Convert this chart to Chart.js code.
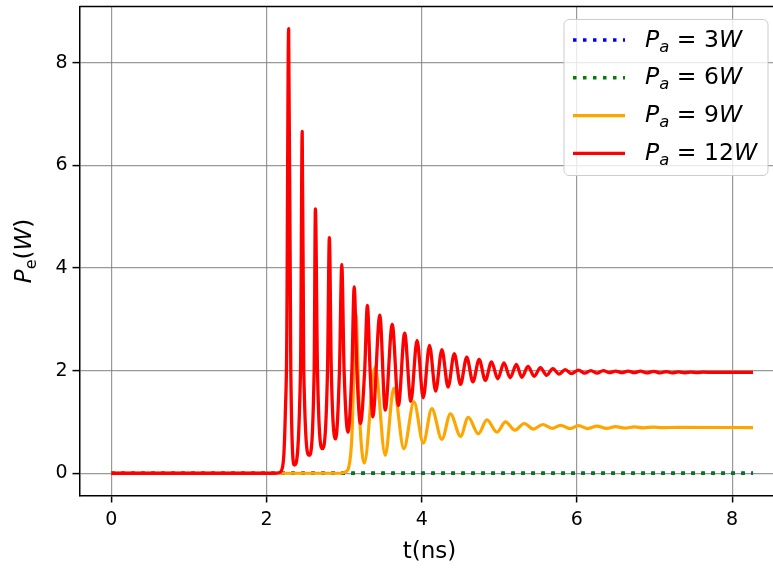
<!DOCTYPE html>
<html lang="en">
<head>
    <meta charset="UTF-8">
    <title>Output power vs time</title>
    <script src="https://cdn.jsdelivr.net/npm/chart.js@4.4.1/dist/chart.umd.min.js"></script>
    <style>
        html, body { margin: 0; padding: 0; background: #fff; overflow: hidden; }
        canvas { display: block; }
    </style>
</head>
<body>
    <canvas id="chart" width="773" height="569"></canvas>
    <script>
        // pump powers (legend) and [t (ns), Pe (W)] points
        const pumpPowers = [3, 6, 9, 12];
        const flat3W = [[0, 0], [8.27, 0]];
        const flat6W = [[0, 0], [8.27, 0]];
        const orange9W = [
            [0, 0], [2.95, 0], [3.02, 0.03], [3.06, 0.12], [3.10, 0.71], [3.12, 1.68], [3.14, 2.75],
            [3.155, 3.1], [3.17, 2.5], [3.20, 1.1], [3.26, 0.2], [3.40, 2.07], [3.53, 0.35],
            [3.64, 1.66], [3.77, 0.48], [3.90, 1.39], [4.02, 0.59], [4.13, 1.26], [4.26, 0.66],
            [4.37, 1.16], [4.50, 0.72], [4.60, 1.09], [4.73, 0.77], [4.84, 1.04], [4.97, 0.80],
            [5.08, 1.00], [5.20, 0.84], [5.32, 0.97], [5.44, 0.86], [5.56, 0.95], [5.68, 0.875],
            [5.79, 0.935], [5.91, 0.87], [6.02, 0.93], [6.14, 0.87], [6.26, 0.92], [6.38, 0.875],
            [6.50, 0.91], [6.62, 0.88], [6.74, 0.905], [6.86, 0.885], [6.98, 0.90], [7.10, 0.888],
            [7.30, 0.895], [8.27, 0.89]
        ];
        const red12W = [
            [0, 0], [2.10, 0], [2.16, 0.01], [2.20, 0.08], [2.225, 0.4], [2.245, 1.3], [2.26, 2.4],
            [2.285, 8.66], [2.313, 2.0], [2.36, 0.16], [2.438, 2.0], [2.46, 6.66], [2.48, 2.0],
            [2.55, 0.35], [2.614, 2.0], [2.63, 5.15], [2.657, 2.0], [2.72, 0.48], [2.786, 2.0],
            [2.81, 4.59], [2.835, 2.0], [2.89, 0.67], [2.94, 2.0], [2.97, 4.07], [3.00, 2.0],
            [3.05, 0.80], [3.10, 2.0], [3.13, 3.63], [3.165, 2.0], [3.21, 0.97], [3.265, 2.0],
            [3.30, 3.27], [3.335, 2.0], [3.37, 1.10], [3.46, 3.08], [3.53, 1.23], [3.62, 2.90],
            [3.70, 1.32], [3.78, 2.73], [3.86, 1.40], [3.94, 2.59], [4.02, 1.47], [4.10, 2.49],
            [4.18, 1.60], [4.26, 2.41], [4.34, 1.68], [4.42, 2.33], [4.50, 1.73], [4.58, 2.26],
            [4.66, 1.78], [4.74, 2.22], [4.82, 1.81], [4.90, 2.17], [4.98, 1.84], [5.06, 2.15],
            [5.14, 1.86], [5.22, 2.12], [5.29, 1.87], [5.37, 2.08], [5.45, 1.89], [5.53, 2.06],
            [5.61, 1.91], [5.69, 2.04], [5.77, 1.93], [5.85, 2.02], [5.93, 1.94], [6.02, 2.01],
            [6.10, 1.95], [6.18, 2.00], [6.26, 1.95], [6.34, 2.00], [6.42, 1.96], [6.50, 1.99],
            [6.58, 1.96], [6.66, 1.99], [6.74, 1.96], [6.82, 1.99], [6.90, 1.955], [6.99, 1.985],
            [7.07, 1.955], [7.15, 1.98], [7.23, 1.955], [7.31, 1.975], [7.39, 1.958], [7.47, 1.972],
            [7.55, 1.96], [7.63, 1.97], [7.75, 1.965], [8.27, 1.965]
        ];
        const xTicks = [0, 2, 4, 6, 8];
        const yTicks = [0, 2, 4, 6, 8];

        const FONT = '"DejaVu Sans", sans-serif';
        const toXY = pts => pts.map(p => ({ x: p[0], y: p[1] }));

        // draw a small piece of "math" text: italic symbols, subscripts
        function mathWidth(ctx, parts, size) {
            let w = 0;
            parts.forEach(p => {
                const fs = p.sub ? size * 0.7 : size;
                ctx.font = (p.it ? 'italic ' : '') + fs + 'px ' + FONT;
                w += (p.gap || 0) * size + ctx.measureText(p.t).width;
            });
            return w;
        }
        function drawMath(ctx, parts, x, y, size) {
            let cx = x;
            parts.forEach(p => {
                const fs = p.sub ? size * 0.7 : size;
                ctx.font = (p.it ? 'italic ' : '') + fs + 'px ' + FONT;
                cx += (p.gap || 0) * size;
                ctx.fillText(p.t, cx, y + (p.sub ? size * 0.22 : 0));
                cx += ctx.measureText(p.t).width;
            });
        }

        const decorations = {
            id: 'decorations',
            afterDraw(chart) {
                const ctx = chart.ctx;
                const ca = chart.chartArea;
                ctx.save();
                ctx.fillStyle = '#000';
                ctx.textAlign = 'left';
                ctx.textBaseline = 'alphabetic';

                // top spine
                ctx.strokeStyle = '#000';
                ctx.lineWidth = 1.5;
                ctx.beginPath();
                ctx.moveTo(ca.left, ca.top);
                ctx.lineTo(ca.right, ca.top);
                ctx.stroke();

                // x axis title
                const xs = chart.scales.x;
                ctx.font = '23px ' + FONT;
                ctx.textAlign = 'center';
                ctx.fillText('t(ns)', xs.getPixelForValue(4.1), 558);
                ctx.textAlign = 'left';

                // y axis title, rotated
                const yParts = [{ t: 'P', it: 1 }, { t: 'e', sub: 1 }, { t: '(' }, { t: 'W', it: 1 }, { t: ')' }];
                const ys = chart.scales.y;
                ctx.save();
                ctx.translate(31, ys.getPixelForValue(4.33));
                ctx.rotate(-Math.PI / 2);
                drawMath(ctx, yParts, -mathWidth(ctx, yParts, 23) / 2, 0, 23);
                ctx.restore();

                // legend
                const bx = 564, by = 19.5, bw = 204, bh = 156, r = 5;
                ctx.fillStyle = 'rgba(255,255,255,0.8)';
                ctx.strokeStyle = '#cccccc';
                ctx.lineWidth = 1;
                ctx.beginPath();
                ctx.roundRect(bx, by, bw, bh, r);
                ctx.fill();
                ctx.stroke();

                chart.data.datasets.forEach((ds, i) => {
                    const ly = 40 + i * 37.8;
                    ctx.strokeStyle = ds.borderColor;
                    ctx.lineWidth = ds.borderWidth;
                    ctx.setLineDash(ds.borderDash || []);
                    ctx.lineCap = 'butt';
                    ctx.beginPath();
                    ctx.moveTo(573, ly);
                    ctx.lineTo(625, ly);
                    ctx.stroke();
                    ctx.setLineDash([]);
                    ctx.fillStyle = '#000';
                    drawMath(ctx, [
                        { t: 'P', it: 1 }, { t: 'a', it: 1, sub: 1 },
                        { t: '=', gap: 0.32 }, { t: String(pumpPowers[i]), gap: 0.32 }, { t: 'W', it: 1 }
                    ], 645, ly + 6.5, 23.5);
                });
                ctx.restore();
            }
        };

        const tickFont = { family: FONT, size: 19 };
        const gridOpts = { color: 'rgba(128,128,128,0.8)', lineWidth: 1.2, tickLength: 7, tickColor: '#000', tickWidth: 1.5 };

        new Chart(document.getElementById('chart'), {
            type: 'line',
            data: {
                datasets: [
                    { label: 'Pa = ' + pumpPowers[0] + 'W', data: toXY(flat3W), borderColor: '#0000ff', borderWidth: 3.5, borderDash: [3.5, 6.5], order: 3 },
                    { label: 'Pa = ' + pumpPowers[1] + 'W', data: toXY(flat6W), borderColor: '#008000', borderWidth: 3.5, borderDash: [3.5, 6.5], order: 2 },
                    { label: 'Pa = ' + pumpPowers[2] + 'W', data: toXY(orange9W), borderColor: '#ffa500', borderWidth: 3.2, cubicInterpolationMode: 'monotone', borderJoinStyle: 'round', order: 1 },
                    { label: 'Pa = ' + pumpPowers[3] + 'W', data: toXY(red12W), borderColor: '#ff0000', borderWidth: 3.3, cubicInterpolationMode: 'monotone', borderJoinStyle: 'round', order: 0 }
                ]
            },
            options: {
                responsive: false,
                animation: false,
                devicePixelRatio: 1,
                layout: { padding: { top: 6.5, left: 0, right: 0, bottom: 0 } },
                elements: { point: { radius: 0 } },
                plugins: { legend: { display: false }, tooltip: { enabled: false } },
                scales: {
                    x: {
                        type: 'linear',
                        min: -0.41,
                        max: 8.527,
                        afterBuildTicks: s => { s.ticks = xTicks.map(v => ({ value: v })); },
                        afterFit: s => { s.height = 73.5; s.paddingLeft = 0; s.paddingRight = 0; },
                        grid: gridOpts,
                        border: { color: '#000', width: 1.5 },
                        ticks: { color: '#000', font: tickFont, padding: 6, maxRotation: 0, autoSkip: false }
                    },
                    y: {
                        type: 'linear',
                        min: -0.433,
                        max: 9.093,
                        afterBuildTicks: s => { s.ticks = yTicks.map(v => ({ value: v })); },
                        afterFit: s => { s.width = 79.5; s.paddingTop = 0; s.paddingBottom = 0; },
                        grid: gridOpts,
                        border: { color: '#000', width: 1.5 },
                        ticks: { color: '#000', font: tickFont, padding: 5, autoSkip: false }
                    }
                }
            },
            plugins: [decorations]
        });
    </script>
</body>
</html>
